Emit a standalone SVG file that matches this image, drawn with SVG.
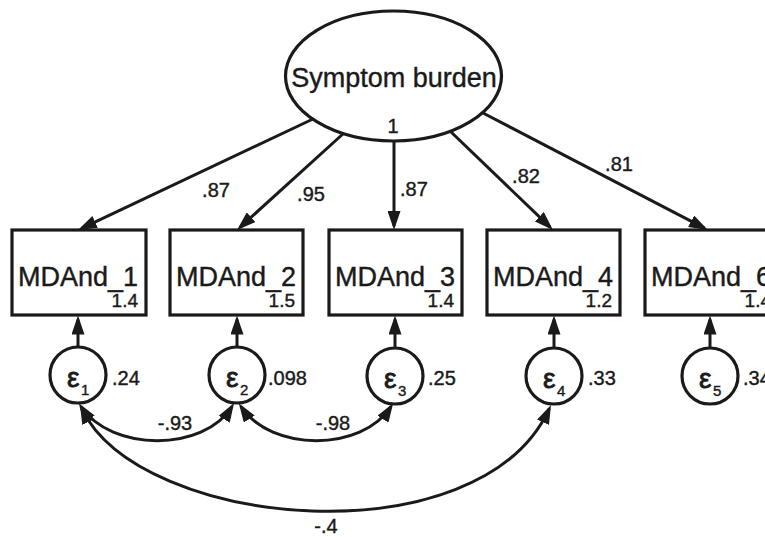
<svg xmlns="http://www.w3.org/2000/svg" width="765" height="537" viewBox="0 0 765 537">
<style>
.shape{fill:#fff;stroke:#1a1a1a;stroke-width:3.2}
.conn{fill:none;stroke:#1a1a1a;stroke-width:3}
text{font-family:"Liberation Sans",Arial,Helvetica,sans-serif;fill:#1a1a1a;stroke:#1a1a1a;stroke-width:0.4}
.big{font-size:27px}
.lbl{font-size:20px}
.sub{font-size:19px;text-anchor:end}
.eps{font-size:28px;stroke-width:0.8}
.epsn{font-size:15px}
.mid{text-anchor:middle}
</style>
<defs>
<marker id="ah" markerUnits="userSpaceOnUse" markerWidth="19" markerHeight="13" refX="15" refY="6.5" orient="auto-start-reverse" viewBox="0 0 19 13">
<path d="M0,0 L19,6.5 L0,13 z" fill="#1a1a1a"/>
</marker>
</defs>
<rect width="765" height="537" fill="#fff"/>
<g id="latent">
<ellipse class="shape" cx="393.5" cy="76" rx="108" ry="65"/>
<text class="big mid" x="394" y="87">Symptom burden</text>
<text class="lbl mid" x="393" y="133" font-size="19">1</text>
</g>
<g id="MDAnd_1">
<rect class="shape" x="12" y="230" width="134" height="85"/>
<text class="big mid" x="78" y="286">MDAnd_1</text>
<text class="sub" x="138" y="307">1.4</text>
</g>
<g id="MDAnd_2">
<rect class="shape" x="170" y="230" width="133" height="85"/>
<text class="big mid" x="236" y="286">MDAnd_2</text>
<text class="sub" x="295" y="307">1.5</text>
</g>
<g id="MDAnd_3">
<rect class="shape" x="329" y="230" width="133" height="85"/>
<text class="big mid" x="395" y="286">MDAnd_3</text>
<text class="sub" x="454" y="307">1.4</text>
</g>
<g id="MDAnd_4">
<rect class="shape" x="487" y="230" width="133" height="85"/>
<text class="big mid" x="553" y="286">MDAnd_4</text>
<text class="sub" x="612" y="307">1.2</text>
</g>
<g id="MDAnd_6">
<rect class="shape" x="645" y="230" width="134" height="85"/>
<text class="big mid" x="711" y="286">MDAnd_6</text>
<text class="sub" x="771" y="307">1.4</text>
</g>
<g id="e1">
<circle class="shape" cx="78" cy="375" r="28"/>
<text class="eps" x="67" y="387">ε</text><text class="epsn" x="81" y="395">1</text>
<text class="lbl" x="112" y="385">.24</text>
</g>
<g id="e2">
<circle class="shape" cx="237" cy="375" r="28"/>
<text class="eps" x="226" y="387">ε</text><text class="epsn" x="240" y="395">2</text>
<text class="lbl" x="268" y="385">.098</text>
</g>
<g id="e3">
<circle class="shape" cx="395" cy="376" r="28"/>
<text class="eps" x="384" y="388">ε</text><text class="epsn" x="398" y="396">3</text>
<text class="lbl" x="428" y="385">.25</text>
</g>
<g id="e4">
<circle class="shape" cx="554" cy="376" r="28"/>
<text class="eps" x="543" y="388">ε</text><text class="epsn" x="557" y="396">4</text>
<text class="lbl" x="588" y="385">.33</text>
</g>
<g id="e5">
<circle class="shape" cx="710" cy="376" r="28"/>
<text class="eps" x="699" y="388">ε</text><text class="epsn" x="713" y="396">5</text>
<text class="lbl" x="743" y="385">.34</text>
</g>
<g id="connectors">
<path class="conn" marker-end="url(#ah)" d="M313,119 L81.6,228.3"/>
<path class="conn" marker-end="url(#ah)" d="M344,133 L240,227.3"/>
<path class="conn" marker-end="url(#ah)" d="M394,141 L394,226"/>
<path class="conn" marker-end="url(#ah)" d="M450,131 L550.1,227.2"/>
<path class="conn" marker-end="url(#ah)" d="M483,113 L704.4,228.2"/>
<path class="conn" marker-end="url(#ah)" d="M78,347 L78,319.5"/>
<path class="conn" marker-end="url(#ah)" d="M237,347 L237,319.5"/>
<path class="conn" marker-end="url(#ah)" d="M395,348 L395,319.5"/>
<path class="conn" marker-end="url(#ah)" d="M554,348 L554,319.5"/>
<path class="conn" marker-end="url(#ah)" d="M710,348 L710,319.5"/>
<path class="conn" marker-start="url(#ah)" marker-end="url(#ah)" d="M81,406.5 C111,452 204,452 232,406.5"/>
<path class="conn" marker-start="url(#ah)" marker-end="url(#ah)" d="M241,406.5 C271,452 362,452 391,406.5"/>
<path class="conn" marker-start="url(#ah)" marker-end="url(#ah)" d="M81.7,408.6 C140,530 480,560 549.3,408.6"/>
<text class="lbl mid" x="216" y="197">.87</text>
<text class="lbl mid" x="311" y="201">.95</text>
<text class="lbl" x="400" y="196">.87</text>
<text class="lbl mid" x="526" y="183">.82</text>
<text class="lbl mid" x="619" y="171">.81</text>
<text class="lbl mid" x="175" y="430">-.93</text>
<text class="lbl mid" x="333" y="430">-.98</text>
<text class="lbl mid" x="326" y="533">-.4</text>
</g>
</svg>
